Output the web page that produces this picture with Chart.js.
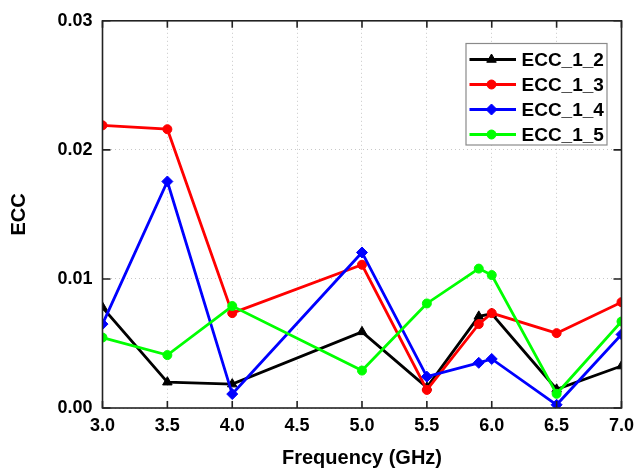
<!DOCTYPE html>
<html>
<head>
<meta charset="utf-8">
<script src="https://cdn.jsdelivr.net/npm/chart.js@4.4.0/dist/chart.umd.min.js"></script>
<style>
  body { margin: 0; background: #fff; }
  #wrap { width: 641px; height: 474px; }
</style>
</head>
<body>
<div id="wrap"><canvas id="myChart"></canvas></div>
<script>
// data
const freqs = [3.0, 3.5, 4.0, 5.0, 5.5, 5.9, 6.0, 6.5, 7.0];
const ecc12 = [0.0078, 0.0020, 0.00185, 0.0059, 0.0016, 0.0071, 0.0073, 0.00145, 0.00325];
const ecc13 = [0.0219, 0.0216, 0.00735, 0.0111, 0.0014, 0.0065, 0.00735, 0.0058, 0.0082];
const ecc14 = [0.0065, 0.01755, 0.00108, 0.01205, 0.00243, 0.0035, 0.0038, 0.00025, 0.0057];
const ecc15 = [0.00546, 0.0041, 0.0079, 0.0029, 0.0081, 0.0108, 0.0103, 0.0011, 0.0067];
const seriesNames = ['ECC_1_2', 'ECC_1_3', 'ECC_1_4', 'ECC_1_5'];
const xTickLabels = ['3.0', '3.5', '4.0', '4.5', '5.0', '5.5', '6.0', '6.5', '7.0'];
const yTickLabels = ['0.00', '0.01', '0.02', '0.03'];

const FONT = 'Liberation Sans, Arial, sans-serif';

function toPoints(ys) {
    return freqs.map((f, i) => ({ x: f, y: ys[i] }));
}

function makeSet(label, ys, color, style, radius, order) {
    return {
        label: label,
        data: toPoints(ys),
        borderColor: color,
        backgroundColor: color,
        borderWidth: 2.8,
        pointStyle: style,
        pointRadius: radius,
        pointBorderWidth: 1,
        pointBackgroundColor: color,
        pointBorderColor: color,
        tension: 0,
        clip: 0,
        order: order
    };
}

// frame, inward ticks on all four sides, and the boxed legend
const framePlugin = {
    id: 'frame',
    afterDraw(chart) {
        const ctx = chart.ctx;
        const a = chart.chartArea;
        const xs = chart.scales.x;
        const ys = chart.scales.y;
        ctx.save();
        ctx.strokeStyle = '#222';
        ctx.lineWidth = 1.6;
        ctx.strokeRect(a.left, a.top, a.right - a.left, a.bottom - a.top);

        ctx.beginPath();
        xs.ticks.forEach(t => {
            const px = xs.getPixelForValue(t.value);
            ctx.moveTo(px, a.bottom); ctx.lineTo(px, a.bottom - 7);
            ctx.moveTo(px, a.top); ctx.lineTo(px, a.top + 7);
        });
        ys.ticks.forEach(t => {
            const py = ys.getPixelForValue(t.value);
            ctx.moveTo(a.left, py); ctx.lineTo(a.left + 8, py);
            ctx.moveTo(a.right, py); ctx.lineTo(a.right - 8, py);
        });
        ctx.stroke();

        // legend
        const lx = 466, ly = 43.5, lw = 141, lh = 101.5;
        ctx.fillStyle = '#fff';
        ctx.fillRect(lx, ly, lw, lh);
        ctx.strokeStyle = '#8a8a8a';
        ctx.lineWidth = 1.2;
        ctx.strokeRect(lx, ly, lw, lh);

        ctx.font = 'bold 19px ' + FONT;
        ctx.textBaseline = 'middle';
        chart.data.datasets.forEach((ds, i) => {
            const yy = 59.5 + i * 25;
            ctx.strokeStyle = ds.borderColor;
            ctx.lineWidth = 2.8;
            ctx.beginPath();
            ctx.moveTo(469.5, yy); ctx.lineTo(516, yy);
            ctx.stroke();
            ctx.fillStyle = ds.borderColor;
            ctx.lineWidth = 1;
            Chart.helpers.drawPoint(ctx, {
                pointStyle: ds.pointStyle, radius: ds.pointRadius, rotation: 0, borderWidth: 1
            }, 491.5, yy);
            ctx.fillStyle = '#000';
            ctx.fillText(ds.label, 521.5, yy + 1);
        });
        ctx.restore();
    }
};

const ctx = document.getElementById('myChart').getContext('2d');
const myChart = new Chart(ctx, {
    type: 'line',
    data: {
        datasets: [
            makeSet(seriesNames[0], ecc12, '#000000', 'triangle', 5.5, 4),
            makeSet(seriesNames[1], ecc13, '#ff0000', 'circle', 4.5, 3),
            makeSet(seriesNames[2], ecc14, '#0000ff', 'rectRot', 5.5, 2),
            makeSet(seriesNames[3], ecc15, '#00ff00', 'circle', 4.5, 1)
        ]
    },
    plugins: [framePlugin],
    options: {
        responsive: true,
        maintainAspectRatio: false,
        animation: false,
        layout: { padding: { left: 0, top: 18, right: 15, bottom: 0 } },
        plugins: {
            legend: { display: false },
            tooltip: { enabled: false }
        },
        scales: {
            x: {
                type: 'linear',
                min: 3,
                max: 7,
                afterFit: s => { s.height = 66; },
                ticks: {
                    stepSize: 0.5,
                    padding: 7,
                    color: '#000',
                    font: { family: FONT, size: 18, weight: 'bold' },
                    callback: (v, i) => xTickLabels[i]
                },
                grid: { color: '#c8c8c8', lineWidth: 1, drawTicks: false },
                border: { display: false, dash: [1, 3] },
                title: {
                    display: true,
                    text: 'Frequency (GHz)',
                    color: '#000',
                    padding: { top: 0, bottom: 4 },
                    font: { family: FONT, size: 20, weight: 'bold' }
                }
            },
            y: {
                min: 0,
                max: 0.03,
                afterFit: s => { s.width = 102.5; },
                ticks: {
                    stepSize: 0.01,
                    padding: 10,
                    color: '#000',
                    font: { family: FONT, size: 18, weight: 'bold' },
                    callback: (v, i) => yTickLabels[i]
                },
                grid: { color: '#c8c8c8', lineWidth: 1, drawTicks: false },
                border: { display: false, dash: [1, 3] },
                title: {
                    display: true,
                    text: 'ECC',
                    color: '#000',
                    padding: { top: 7.5, bottom: 0 },
                    font: { family: FONT, size: 20, weight: 'bold' }
                }
            }
        }
    }
});
</script>
</body>
</html>
